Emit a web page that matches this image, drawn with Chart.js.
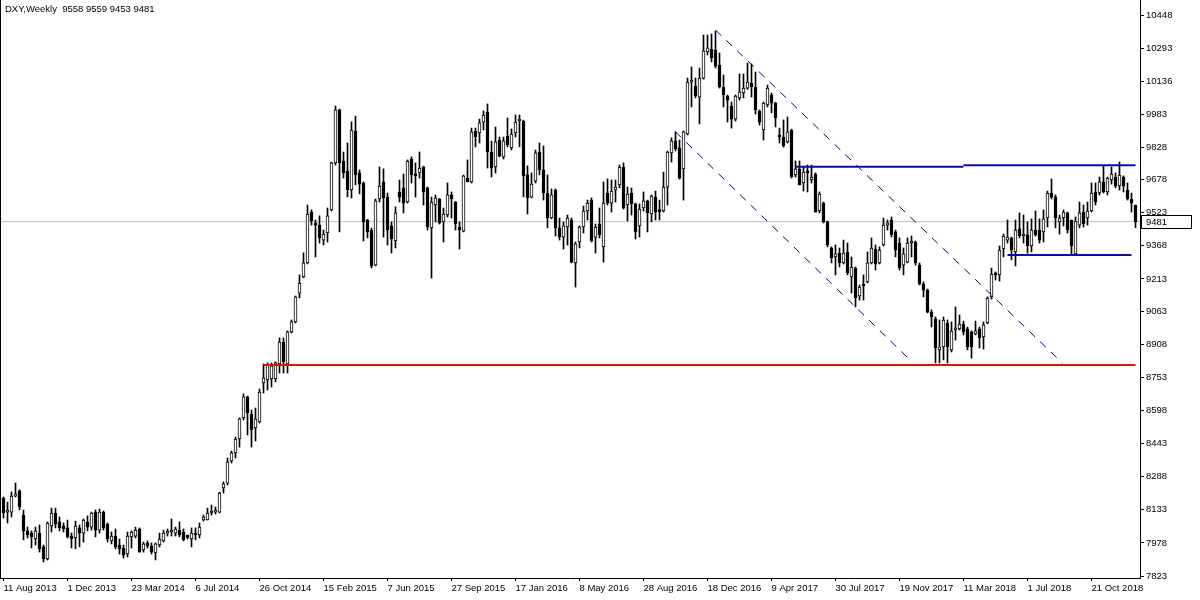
<!DOCTYPE html>
<html>
<head>
<meta charset="utf-8">
<script src="https://cdn.jsdelivr.net/npm/chart.js@4.4.0/dist/chart.umd.min.js"></script>
<style>
  html, body { margin: 0; padding: 0; background: #fff; }
  #wrap { width: 1200px; height: 600px; }
</style>
</head>
<body>
<div id="wrap"><canvas id="chart" width="1200" height="600"></canvas></div>
<script>
const symbol = 'DXY,Weekly';

// x axis labels, one every 16 weekly bars
const xLabels = ['11 Aug 2013', '1 Dec 2013', '23 Mar 2014', '6 Jul 2014', '26 Oct 2014', '15 Feb 2015',
  '7 Jun 2015', '27 Sep 2015', '17 Jan 2016', '8 May 2016', '28 Aug 2016', '18 Dec 2016',
  '9 Apr 2017', '30 Jul 2017', '19 Nov 2017', '11 Mar 2018', '1 Jul 2018', '21 Oct 2018'];
const labelEvery = 16;

// price scale labels (x100)
const yTicks = [10448, 10293, 10136, 9983, 9828, 9678, 9523, 9368, 9213, 9063, 8908,
  8753, 8598, 8443, 8288, 8133, 7978, 7823];

// weekly OHLC, price x100
const opens = [
  8188, 8122, 8122, 8197, 8221, 8108, 8034, 8024, 7996, 8024, 7959, 7903, 8057, 8118, 8076, 8057, 8048, 8010, 8001, 8048,
  8024, 8076, 8052, 8122, 8038, 8122, 8066, 7987, 8010, 7968, 7954, 7926, 8006, 8010, 8043, 7945, 7978, 7963, 7931, 7968,
  7987, 8024, 8029, 8024, 8038, 8029, 8006, 7996, 8024, 8015, 8085, 8085, 8118, 8122, 8122, 8235, 8258, 8361, 8399, 8464,
  8563, 8661, 8581, 8516, 8544, 8726, 8740, 8745, 8745, 8815, 8918, 8815, 8965, 9012, 9147, 9222, 9288, 9526, 9475, 9465,
  9395, 9428, 9536, 9756, 10004, 9765, 9718, 9629, 9905, 9709, 9662, 9489, 9442, 9278, 9587, 9667, 9596, 9461, 9391, 9620,
  9639, 9573, 9774, 9704, 9709, 9737, 9639, 9452, 9559, 9587, 9480, 9512, 9606, 9573, 9456, 9437, 9685, 9667, 9905, 9896,
  9947, 9994, 9807, 9737, 9863, 9784, 9882, 9826, 9896, 9952, 9952, 9700, 9596, 9671, 9807, 9723, 9615, 9498, 9629, 9452,
  9409, 9456, 9489, 9288, 9386, 9456, 9531, 9582, 9409, 9470, 9363, 9615, 9568, 9629, 9653, 9737, 9559, 9615, 9564, 9461,
  9545, 9578, 9517, 9596, 9536, 9531, 9643, 9803, 9859, 9826, 9728, 9891, 10134, 10116, 10064, 10153, 10275, 10289, 10284, 10214,
  10111, 10069, 10022, 9961, 10060, 10083, 10106, 10130, 10111, 9999, 9910, 10027, 10074, 10036, 9887, 9877, 9854, 9910, 9700, 9728,
  9662, 9713, 9676, 9704, 9531, 9568, 9480, 9358, 9316, 9334, 9288, 9339, 9222, 9264, 9133, 9189, 9199, 9288, 9353, 9288,
  9372, 9465, 9489, 9433, 9381, 9278, 9292, 9381, 9386, 9278, 9189, 9161, 9058, 9026, 8881, 8895, 9007, 8881, 8974, 8979,
  9002, 8979, 8965, 8956, 8979, 8942, 9007, 9129, 9241, 9232, 9353, 9395, 9405, 9339, 9447, 9414, 9419, 9367, 9442, 9442,
  9433, 9498, 9615, 9596, 9480, 9498, 9522, 9489, 9330, 9465, 9526, 9498, 9531, 9620, 9615, 9667, 9620, 9676, 9690, 9648,
  9690, 9629, 9587, 9558];
const highs = [
  8193, 8169, 8216, 8258, 8226, 8132, 8052, 8034, 8052, 8062, 7968, 8076, 8141, 8141, 8099, 8071, 8085, 8024, 8080, 8062,
  8090, 8104, 8122, 8132, 8136, 8127, 8071, 8029, 8043, 7996, 7968, 8029, 8034, 8052, 8048, 7982, 7987, 7978, 7978, 8024,
  8038, 8043, 8090, 8052, 8076, 8043, 8015, 8048, 8048, 8071, 8108, 8141, 8155, 8146, 8216, 8263, 8375, 8408, 8473, 8563,
  8675, 8665, 8600, 8609, 8698, 8815, 8820, 8820, 8825, 8937, 8937, 8970, 9021, 9133, 9232, 9335, 9559, 9536, 9489, 9508,
  9442, 9545, 9760, 10022, 10008, 9807, 9849, 9948, 9975, 9723, 9667, 9492, 9451, 9587, 9737, 9728, 9615, 9480, 9550, 9676,
  9704, 9770, 9784, 9756, 9807, 9741, 9643, 9596, 9606, 9590, 9545, 9662, 9620, 9576, 9480, 9699, 9770, 9919, 9919, 9961,
  9999, 10032, 9858, 9924, 9877, 9877, 9966, 9915, 9980, 9980, 9956, 9742, 9709, 9816, 9849, 9835, 9700, 9634, 9634, 9498,
  9480, 9512, 9498, 9386, 9461, 9554, 9582, 9592, 9470, 9545, 9667, 9681, 9676, 9676, 9746, 9756, 9643, 9639, 9568, 9564,
  9620, 9582, 9606, 9624, 9582, 9713, 9811, 9873, 9901, 9863, 9905, 10153, 10205, 10153, 10200, 10354, 10354, 10359, 10373, 10270,
  10167, 10074, 10041, 10074, 10172, 10172, 10223, 10219, 10181, 10004, 10041, 10120, 10083, 10040, 9919, 9957, 9971, 9914, 9765, 9765,
  9737, 9746, 9746, 9709, 9620, 9573, 9484, 9363, 9372, 9358, 9395, 9381, 9316, 9269, 9185, 9232, 9339, 9405, 9372, 9363,
  9498, 9489, 9503, 9442, 9405, 9358, 9405, 9414, 9391, 9288, 9199, 9166, 9068, 9035, 9021, 9035, 9021, 9012, 9082, 9044,
  9016, 8988, 8970, 9016, 8988, 9012, 9129, 9264, 9246, 9367, 9423, 9489, 9409, 9489, 9522, 9512, 9480, 9494, 9531, 9494,
  9536, 9624, 9681, 9606, 9512, 9536, 9526, 9489, 9503, 9573, 9559, 9573, 9662, 9662, 9690, 9742, 9690, 9737, 9709, 9760,
  9695, 9662, 9615, 9559];
const lows = [
  8094, 8071, 8099, 8193, 8132, 7992, 8001, 7954, 7968, 7935, 7889, 7898, 8029, 8048, 8034, 8029, 8001, 7954, 7950, 7959,
  7982, 8034, 8038, 8006, 8024, 8038, 7982, 7973, 7950, 7926, 7907, 7912, 7954, 8001, 7935, 7935, 7954, 7926, 7898, 7959,
  7982, 8010, 8010, 8010, 8006, 7987, 7996, 7959, 7992, 8001, 8080, 8085, 8108, 8113, 8118, 8211, 8249, 8352, 8375, 8426,
  8553, 8483, 8426, 8455, 8539, 8679, 8693, 8707, 8731, 8773, 8773, 8773, 8960, 9007, 9124, 9218, 9283, 9465, 9316, 9381,
  9372, 9386, 9531, 9746, 9433, 9685, 9597, 9592, 9653, 9611, 9391, 9405, 9264, 9274, 9573, 9409, 9372, 9334, 9358, 9573,
  9522, 9568, 9662, 9596, 9685, 9559, 9442, 9217, 9480, 9470, 9386, 9503, 9498, 9442, 9353, 9433, 9667, 9662, 9831, 9849,
  9910, 9732, 9690, 9709, 9784, 9774, 9831, 9816, 9877, 9831, 9597, 9517, 9592, 9662, 9700, 9582, 9452, 9494, 9414, 9395,
  9353, 9372, 9288, 9175, 9358, 9428, 9489, 9386, 9334, 9405, 9292, 9559, 9526, 9573, 9639, 9540, 9484, 9512, 9400, 9409,
  9531, 9433, 9480, 9489, 9489, 9526, 9559, 9760, 9812, 9680, 9582, 9887, 10018, 10060, 9938, 10148, 10261, 10228, 10200, 10106,
  10018, 9947, 9919, 9952, 10050, 10060, 10100, 10064, 9985, 9933, 9863, 10018, 9990, 9924, 9849, 9830, 9849, 9685, 9690, 9653,
  9624, 9620, 9662, 9526, 9522, 9475, 9363, 9288, 9232, 9269, 9283, 9232, 9147, 9082, 9114, 9114, 9194, 9283, 9255, 9283,
  9367, 9442, 9409, 9316, 9255, 9232, 9288, 9316, 9278, 9185, 9129, 9054, 8988, 8820, 8820, 8834, 8820, 8871, 8927, 8974,
  8951, 8881, 8843, 8951, 8890, 8885, 9003, 9119, 9208, 9203, 9316, 9381, 9302, 9274, 9405, 9381, 9334, 9339, 9414, 9381,
  9386, 9456, 9587, 9452, 9423, 9461, 9428, 9325, 9325, 9452, 9456, 9465, 9526, 9559, 9606, 9615, 9606, 9657, 9639, 9629,
  9620, 9582, 9526, 9453];
const closes = [
  8118, 8127, 8197, 8207, 8146, 8034, 8015, 8006, 8034, 7950, 7903, 8071, 8118, 8066, 8048, 8043, 8006, 7996, 8057, 8024,
  8085, 8052, 8118, 8038, 8122, 8048, 7996, 8010, 7959, 7950, 7921, 8010, 8029, 8038, 7935, 7973, 7963, 7935, 7973, 7996,
  8024, 8029, 8031, 8043, 8015, 7992, 8004, 8024, 8015, 8052, 8099, 8118, 8127, 8125, 8211, 8254, 8357, 8399, 8464, 8558,
  8661, 8586, 8506, 8558, 8684, 8750, 8815, 8806, 8820, 8918, 8825, 8965, 9012, 9129, 9194, 9288, 9517, 9484, 9465, 9405,
  9423, 9508, 9756, 10004, 9756, 9709, 9629, 9910, 9700, 9657, 9480, 9433, 9274, 9578, 9648, 9592, 9442, 9400, 9522, 9596,
  9568, 9765, 9700, 9695, 9732, 9620, 9456, 9573, 9592, 9475, 9517, 9606, 9587, 9470, 9442, 9695, 9667, 9901, 9877, 9943,
  9980, 9807, 9732, 9854, 9788, 9859, 9840, 9891, 9947, 9954, 9695, 9592, 9657, 9803, 9723, 9615, 9498, 9606, 9452, 9409,
  9461, 9498, 9292, 9377, 9456, 9531, 9568, 9391, 9456, 9419, 9568, 9568, 9624, 9643, 9737, 9545, 9610, 9564, 9433, 9540,
  9578, 9522, 9601, 9526, 9528, 9643, 9807, 9859, 9821, 9685, 9901, 10134, 10144, 10069, 10153, 10280, 10294, 10247, 10209, 10111,
  10074, 10050, 9961, 10069, 10088, 10106, 10134, 10111, 10004, 9947, 10036, 10106, 10036, 9966, 9877, 9835, 9901, 9690, 9728, 9653,
  9713, 9709, 9690, 9526, 9610, 9480, 9372, 9311, 9330, 9288, 9334, 9241, 9269, 9124, 9175, 9180, 9288, 9358, 9283, 9348,
  9465, 9475, 9419, 9348, 9264, 9330, 9381, 9386, 9288, 9189, 9161, 9058, 9035, 8890, 8895, 9021, 8895, 8969, 8984, 9002,
  8965, 8895, 8895, 8970, 8937, 8998, 9124, 9236, 9232, 9348, 9414, 9409, 9348, 9442, 9414, 9423, 9367, 9442, 9419, 9395,
  9494, 9615, 9596, 9498, 9498, 9526, 9442, 9367, 9484, 9522, 9470, 9531, 9615, 9573, 9667, 9620, 9685, 9704, 9648, 9699,
  9648, 9587, 9568, 9481];

// drawn objects: [startBar, startPrice, endBar, endPrice]
const supportLine = [65, 8810, 283, 8810];
const resistanceLines = [[198, 9738, 240, 9738], [240, 9745, 283, 9745]];
const rangeLowLine = [251, 9325, 282, 9325];
const channelLines = [[178, 10378, 264.7, 8820], [168, 9901, 226.4, 8838]];

const n = closes.length;
const lastBar = n - 1;

const seg = (l) => [{ x: l[0], y: l[1] }, { x: l[2], y: l[3] }];
const lineDs = (l, color, width, dash, order) => ({
  type: 'line', data: seg(l), borderColor: color, borderWidth: width, borderDash: dash || [],
  pointRadius: 0, tension: 0, order: order, fill: false
});

const bodies = opens.map((o, i) => ({ x: i, y: [Math.min(o, closes[i]), Math.max(o, closes[i])] }));
const wicks = highs.map((h, i) => ({ x: i, y: [lows[i], h] }));
const bodyFill = opens.map((o, i) => closes[i] >= o ? '#ffffff' : '#000000');

const datasets = [
  lineDs(supportLine, '#e41010', 2, null, 0),
  lineDs(resistanceLines[0], '#0a0ab0', 2, null, 0),
  lineDs(resistanceLines[1], '#0a0ab0', 2, null, 0),
  lineDs(rangeLowLine, '#0a0ab0', 2, null, 0),
  lineDs(channelLines[0], '#000080', 1, [8, 7], 0),
  lineDs(channelLines[1], '#000080', 1, [8, 7], 0),
  {
    type: 'bar', data: bodies, backgroundColor: bodyFill, borderColor: '#000000', borderWidth: 1,
    borderSkipped: false, barThickness: 3, grouped: false, minBarLength: 2, order: 1
  },
  {
    type: 'bar', data: wicks, backgroundColor: '#000000', borderWidth: 0,
    barThickness: 1, grouped: false, order: 2
  },
  lineDs([-1, closes[lastBar], 285, closes[lastBar]], '#c0c0c0', 1, null, 3)
];

const font = { family: 'Liberation Sans', size: 9.5 };

const overlay = {
  id: 'overlay',
  afterDraw(chart) {
    const ctx = chart.ctx;
    const area = chart.chartArea;
    ctx.save();
    ctx.strokeStyle = '#000';
    ctx.lineWidth = 1;
    ctx.beginPath();
    ctx.moveTo(0.5, 0);
    ctx.lineTo(0.5, area.bottom);
    ctx.stroke();
    ctx.font = '9.5px "Liberation Sans"';
    ctx.fillStyle = '#000';
    ctx.textBaseline = 'middle';
    ctx.fillText(symbol + '  ' + opens[lastBar] + ' ' + highs[lastBar] + ' ' + lows[lastBar] + ' ' + closes[lastBar], 5, 9);
    const y = Math.round(chart.scales.y.getPixelForValue(closes[lastBar]));
    ctx.fillStyle = '#fff';
    ctx.fillRect(area.right + 1, y - 7, 51, 14);
    ctx.strokeRect(area.right + 1.5, y - 6.5, 50, 13);
    ctx.fillStyle = '#000';
    ctx.fillText(String(closes[lastBar]), area.right + 6, y + 0.5);
    ctx.restore();
  }
};

new Chart(document.getElementById('chart'), {
  type: 'bar',
  data: { datasets },
  options: {
    responsive: false,
    animation: false,
    devicePixelRatio: 1,
    layout: { padding: 0, autoPadding: false },
    plugins: { legend: { display: false }, tooltip: { enabled: false } },
    scales: {
      x: {
        type: 'linear', min: -0.875, max: 284.125, offset: false,
        afterFit(scale) {
          scale.height = 22;
          scale.paddingLeft = 0; scale.paddingRight = 0;
        },
        afterBuildTicks(scale) { scale.ticks = xLabels.map((_, k) => ({ value: k * labelEvery })); },
        ticks: {
          autoSkip: false, maxRotation: 0, minRotation: 0, align: 'start', color: '#000', font, padding: 2,
          callback: (v) => xLabels[Math.round(v / labelEvery)]
        },
        grid: { drawOnChartArea: false, drawTicks: true, tickLength: 3, color: '#000', offset: false },
        border: { display: true, color: '#000' }
      },
      y: {
        type: 'linear', position: 'right', min: 7813.7, max: 10518.2,
        afterFit(scale) {
          scale.width = 60;
          scale.paddingTop = 0; scale.paddingBottom = 0;
        },
        afterBuildTicks(scale) { scale.ticks = yTicks.map(v => ({ value: v })); },
        ticks: { autoSkip: false, color: '#000', font, padding: 2, callback: (v) => String(v) },
        grid: { drawOnChartArea: false, drawTicks: true, tickLength: 4, color: '#000' },
        border: { display: true, color: '#000' }
      }
    }
  },
  plugins: [overlay]
});
</script>
</body>
</html>
